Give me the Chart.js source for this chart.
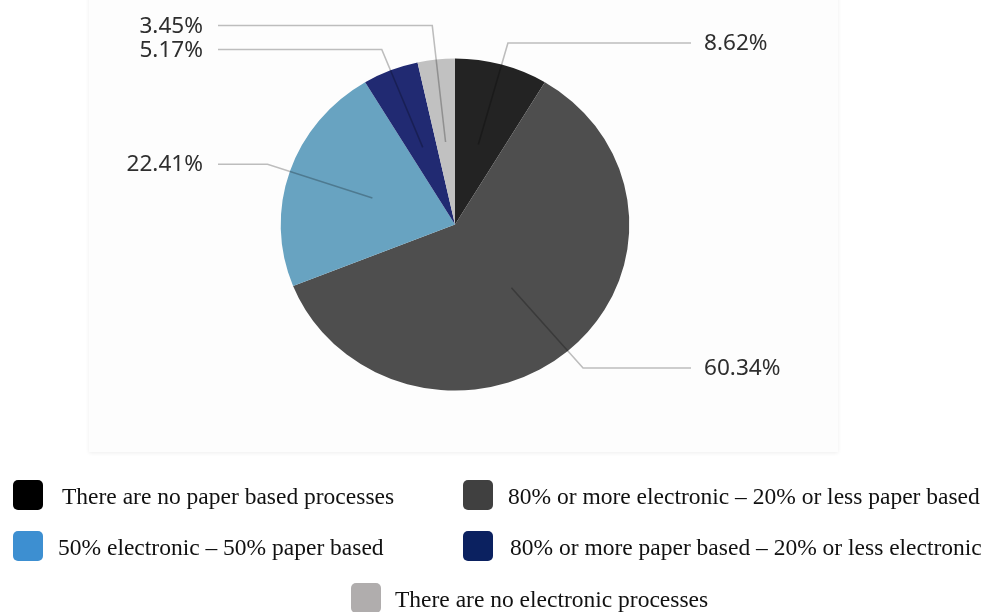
<!DOCTYPE html>
<html>
<head>
<meta charset="utf-8">
<script src="https://cdn.jsdelivr.net/npm/chart.js@4/dist/chart.umd.min.js"></script>
<style>
  html, body { margin: 0; padding: 0; background: #ffffff; }
  canvas { display: block; }
</style>
</head>
<body>
<canvas id="chart" width="984" height="612"></canvas>
<script>
// Share of processes by how electronic they are
const categories = [
  'There are no paper based processes',
  '80% or more electronic \u2013 20% or less paper based',
  '50% electronic \u2013 50% paper based',
  '80% or more paper based \u2013 20% or less electronic',
  'There are no electronic processes'
];
const shares = [8.62, 60.34, 22.41, 5.17, 3.45];
const sliceColors = ['#232323', '#4e4e4e', '#68a3c1', '#212a72', '#c1c1c1'];
const legendColors = ['#000000', '#404040', '#3d8fd1', '#0b2160', '#b0adad'];

// Horizontal stretch applied to the pie and its labels
const STRETCH_X = 1.05;

// Card behind the pie
const cardPlugin = {
  id: 'card',
  beforeDraw(chart) {
    const ctx = chart.ctx;
    ctx.save();
    ctx.shadowColor = 'rgba(0,0,0,0.07)';
    ctx.shadowBlur = 4;
    ctx.shadowOffsetY = 1;
    ctx.fillStyle = '#fdfdfd';
    ctx.fillRect(89, -10, 749, 462);
    ctx.restore();
  }
};

// Stretch + leader lines and percentage labels
const pieLabelPlugin = {
  id: 'pieLabels',
  beforeDatasetsDraw(chart) {
    const ctx = chart.ctx;
    const arc0 = chart.getDatasetMeta(0).data[0];
    ctx.save();
    ctx.translate(arc0.x, 0);
    ctx.scale(STRETCH_X, 1);
    ctx.translate(-arc0.x, 0);
  },
  afterDatasetsDraw(chart) {
    const ctx = chart.ctx;
    const arcs = chart.getDatasetMeta(0).data;
    const items = arcs.map((arc, i) => {
      const p = arc.getProps(['x', 'y', 'startAngle', 'endAngle', 'outerRadius'], true);
      const mid = (p.startAngle + p.endAngle) / 2;
      const r = p.outerRadius;
      return {
        i, p, mid, r,
        side: Math.cos(mid) >= 0 ? 'right' : 'left',
        y: p.y + r * 1.135 * Math.sin(mid)
      };
    });
    // keep labels on each side at least one line apart, pushing upward
    const gap = 24;
    ['left', 'right'].forEach(side => {
      const list = items.filter(it => it.side === side).sort((a, b) => a.y - b.y);
      for (let k = list.length - 2; k >= 0; k--) {
        list[k].y = Math.min(list[k].y, list[k + 1].y - gap);
      }
    });
    const cx = items[0].p.x;
    const lineEndRight = cx + (691 - cx) / STRETCH_X;
    const lineEndLeft = cx - (cx - 218) / STRETCH_X;
    const textRight = cx + (704 - cx) / STRETCH_X;
    const textLeft = cx - (cx - 203) / STRETCH_X;

    ctx.lineWidth = 1.5;
    ctx.strokeStyle = 'rgba(0,0,0,0.25)';
    ctx.fillStyle = '#2e2e2e';
    ctx.font = '21.5px "Noto Sans"';
    ctx.textBaseline = 'middle';

    items.forEach(it => {
      const { p, mid, r } = it;
      const sx = p.x + 0.5 * r * Math.cos(mid);
      const sy = p.y + 0.5 * r * Math.sin(mid);
      const t = (it.y - p.y) / Math.sin(mid);
      const bx = p.x + t * Math.cos(mid);
      const by = it.y;
      const ex = it.side === 'right' ? lineEndRight : lineEndLeft;
      ctx.beginPath();
      ctx.moveTo(sx, sy);
      ctx.lineTo(bx, by);
      ctx.lineTo(ex, by);
      ctx.stroke();
      const txt = shares[it.i].toFixed(2) + '%';
      if (it.side === 'right') {
        ctx.textAlign = 'left';
        ctx.fillText(txt, textRight, by + 1);
      } else {
        ctx.textAlign = 'right';
        ctx.fillText(txt, textLeft, by + 1);
      }
    });
    ctx.restore();
  }
};

// Legend grid below the card
const legendPlugin = {
  id: 'gridLegend',
  afterDraw(chart) {
    const ctx = chart.ctx;
    const slots = [
      { x: 13, cy: 495, tx: 62 },
      { x: 463, cy: 495, tx: 508 },
      { x: 13, cy: 546, tx: 58 },
      { x: 463, cy: 546, tx: 510 },
      { x: 351, cy: 598, tx: 395 }
    ];
    ctx.save();
    ctx.font = '23.5px "Liberation Serif"';
    ctx.textAlign = 'left';
    ctx.textBaseline = 'alphabetic';
    categories.forEach((label, i) => {
      const s = slots[i];
      ctx.fillStyle = legendColors[i];
      ctx.beginPath();
      ctx.roundRect(s.x, s.cy - 15, 30, 30, 5);
      ctx.fill();
      ctx.fillStyle = '#111111';
      ctx.fillText(label, s.tx, s.cy + 9);
    });
    ctx.restore();
  }
};

new Chart(document.getElementById('chart'), {
  type: 'pie',
  data: {
    labels: categories,
    datasets: [{
      data: shares,
      backgroundColor: sliceColors,
      borderWidth: 0
    }]
  },
  options: {
    responsive: false,
    animation: false,
    layout: { padding: { top: 58.5, bottom: 221.5, left: 289, right: 363 } },
    plugins: {
      legend: { display: false },
      tooltip: { enabled: false }
    }
  },
  plugins: [cardPlugin, pieLabelPlugin, legendPlugin]
});
</script>
</body>
</html>
